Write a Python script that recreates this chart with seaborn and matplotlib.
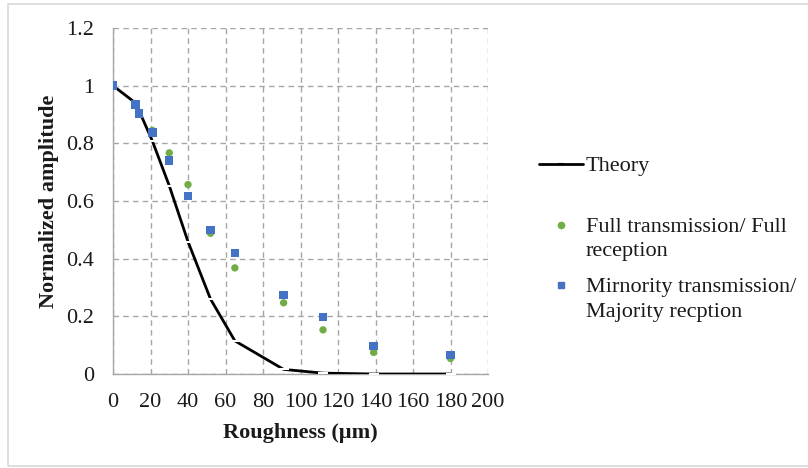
import matplotlib
matplotlib.use("Agg")
import matplotlib.pyplot as plt
import seaborn as sns
import pandas as pd
from matplotlib.lines import Line2D
from matplotlib.patches import Rectangle

# ---- data ----
roughness = [0, 12, 14, 21, 30, 40, 52, 65, 91, 112, 139, 180]
theory = [1.0, 0.94, 0.912, 0.808, 0.653, 0.459, 0.26, 0.115, 0.016, 0.003, 0.0, 0.0]
full_tx = [1.0, 0.935, 0.903, 0.845, 0.767, 0.657, 0.488, 0.368, 0.247, 0.153, 0.075, 0.054]
minority_tx = [1.0, 0.935, 0.903, 0.837, 0.741, 0.617, 0.499, 0.42, 0.273, 0.197, 0.098, 0.066]
x_ticks = [0, 20, 40, 60, 80, 100, 120, 140, 160, 180, 200]
y_ticks = [0, 0.2, 0.4, 0.6, 0.8, 1.0, 1.2]
y_tick_labels = ["0", "0.2", "0.4", "0.6", "0.8", "1", "1.2"]
legend_lines = [["Theory"],
                ["Full transmission/ Full", "reception"],
                ["Mirnority transmission/", "Majority recption"]]

df = pd.DataFrame({"x": roughness, "theory": theory, "full": full_tx, "minority": minority_tx})

sns.set_style("white")
plt.rcParams["font.family"] = ["Liberation Serif", "DejaVu Serif"]

W, H = 808, 468
fig = plt.figure(figsize=(W / 100, H / 100), dpi=100)
ax = fig.add_axes([113 / W, 1 - 374 / H, (488 - 113) / W, (374 - 28) / H])

green = "#70ad47"
blue = "#4472c4"
txt = "#1a1a1a"
FS = 16

sns.lineplot(data=df, x="x", y="theory", ax=ax, color="black", linewidth=2.0,
             marker="_", markersize=7, markeredgewidth=1.5, zorder=3)
sns.scatterplot(data=df, x="x", y="full", ax=ax, color=green, marker="o", s=28,
                edgecolor="none", zorder=4)
sns.scatterplot(data=df, x="x", y="minority", ax=ax, color=blue, marker="s", s=36,
                edgecolor="none", zorder=5)

ax.set_xlim(0, 200)
ax.set_ylim(0, 1.2)
ax.set_xticks(x_ticks)
ax.set_yticks(y_ticks)
ax.set_yticklabels(y_tick_labels)
ax.tick_params(axis="both", length=0, labelsize=FS, colors=txt, pad=13.5)
ax.grid(True, linestyle=(0, (4, 3)), color="#a6a6a6", linewidth=1.0)
for s in ["top", "right"]:
    ax.spines[s].set_visible(False)
for s in ["left", "bottom"]:
    ax.spines[s].set_color("#a6a6a6")
    ax.spines[s].set_linewidth(1.0)
ax.set_axisbelow(True)

ax.set_xlabel("Roughness (µm)", fontsize=FS, fontweight="bold", color=txt, labelpad=8)
ax.set_ylabel("Normalized amplitude", fontsize=FS, fontweight="bold", color=txt, labelpad=5)

# ---- legend (drawn in figure pixel coordinates) ----
def fx(px):
    return px / W

def fy(py):
    return 1 - py / H

fig.add_artist(Line2D([fx(539), fx(583)], [fy(163.5), fy(163.5)], color="black", linewidth=2.0,
                      transform=fig.transFigure))
fig.add_artist(Line2D([fx(561)], [fy(163.5)], color="black", marker="_", markersize=5,
                      markeredgewidth=1.5, transform=fig.transFigure))
fig.add_artist(Line2D([fx(561)], [fy(225)], color=green, marker="o", markersize=4.5,
                      linestyle="none", transform=fig.transFigure))
fig.add_artist(Line2D([fx(561)], [fy(285)], color=blue, marker="s", markersize=5,
                      linestyle="none", transform=fig.transFigure))
baselines = [[171.5], [231.5, 256], [292, 316.5]]
for lines, bls in zip(legend_lines, baselines):
    for t, b in zip(lines, bls):
        fig.text(fx(586), fy(b), t, fontsize=FS, color=txt, va="baseline", ha="left")

fig.patches.append(Rectangle((8 / W, 2 / H), 1.2, (466 - 4) / H, transform=fig.transFigure,
                             fill=False, edgecolor="#d9d9d9", linewidth=1.2))

fig.savefig("out.png", dpi=100)
